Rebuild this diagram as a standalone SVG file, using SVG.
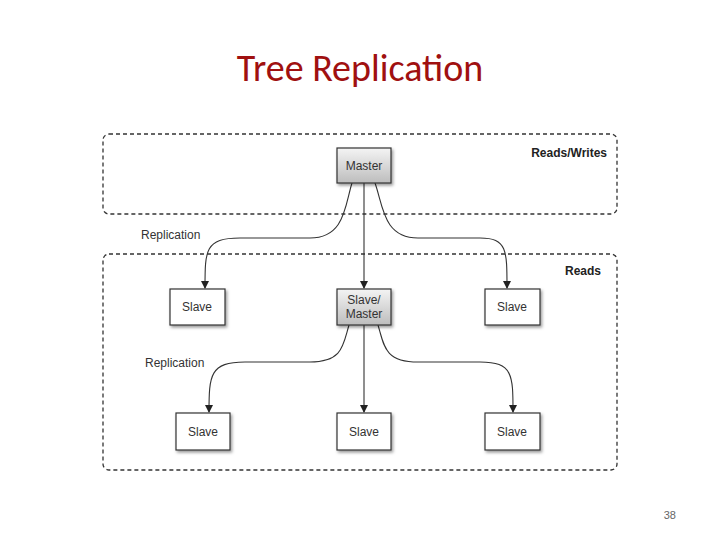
<svg xmlns="http://www.w3.org/2000/svg" width="720" height="540" viewBox="0 0 720 540">
<defs>
<marker id="ar" markerWidth="8" markerHeight="8" refX="7" refY="4" orient="auto" markerUnits="userSpaceOnUse"><path d="M0,0 L8,4 L0,8 Z" fill="#222"/></marker>
<linearGradient id="g" x1="0" y1="0" x2="0" y2="1"><stop offset="0" stop-color="#f4f4f4"/><stop offset="1" stop-color="#bdbdbd"/></linearGradient>
<filter id="sh" x="-20%" y="-20%" width="150%" height="150%"><feDropShadow dx="1.5" dy="2" stdDeviation="1.5" flood-opacity="0.4"/></filter>
</defs>
<style>
.zone{fill:none;stroke:#333;stroke-width:1.3;stroke-dasharray:4,3}
.n{stroke:#333;stroke-width:1.2;filter:url(#sh)}
.w{fill:#fff}.gr{fill:url(#g)}
.t{font-family:"Liberation Sans",Arial,sans-serif;font-size:12px;fill:#333;text-anchor:middle}
.l{font-family:"Liberation Sans",Arial,sans-serif;font-size:12px;fill:#333}
.b{font-family:"Liberation Sans",Arial,sans-serif;font-size:12px;font-weight:bold;fill:#222;text-anchor:end}
.c{fill:none;stroke:#333;stroke-width:1.1;marker-end:url(#ar)}
</style>
<rect width="720" height="540" fill="#fff"/>
<text x="360" y="81" font-family="Calibri,Carlito,'Liberation Sans',sans-serif" font-size="38" fill="#a01010" text-anchor="middle">Tree Replication</text>
<rect class="zone" x="103" y="134" width="514" height="80" rx="6"/>
<rect class="zone" x="103" y="254" width="514" height="216" rx="6"/>
<text class="b" x="607" y="157">Reads/Writes</text>
<text class="b" x="601" y="275">Reads</text>
<text class="l" x="141" y="239">Replication</text>
<text class="l" x="145" y="367">Replication</text>
<g id="connectors">
<path class="c" d="M352,183 C345,205 345,238 310,238 L240,238 C205,238 205,250 205,288"/>
<path class="c" d="M364,183 L364,288"/>
<path class="c" d="M375,183 C383,205 383,238 418,238 L480,238 C507,238 507,250 507,288"/>
<path class="c" d="M349,325 C343,345 343,362 310,362 L245,362 C210,362 209,375 209,412"/>
<path class="c" d="M364,325 L364,412"/>
<path class="c" d="M378,325 C384,345 384,362 418,362 L480,362 C513,362 513,375 513,412"/>
</g>
<g id="master"><rect class="n gr" x="337" y="148" width="54" height="35"/><text class="t" x="364" y="170">Master</text></g>
<g id="slave1"><rect class="n w" x="170" y="289" width="55" height="36"/><text class="t" x="197" y="311">Slave</text></g>
<g id="slavemaster"><rect class="n gr" x="337" y="289" width="54" height="36"/><text class="t" x="364" y="304">Slave/</text><text class="t" x="364" y="318">Master</text></g>
<g id="slave2"><rect class="n w" x="485" y="289" width="55" height="36"/><text class="t" x="512" y="311">Slave</text></g>
<g id="slave3"><rect class="n w" x="176" y="413" width="54" height="37"/><text class="t" x="203" y="436">Slave</text></g>
<g id="slave4"><rect class="n w" x="337" y="413" width="54" height="37"/><text class="t" x="364" y="436">Slave</text></g>
<g id="slave5"><rect class="n w" x="485" y="413" width="55" height="37"/><text class="t" x="512" y="436">Slave</text></g>
<text x="676" y="519" font-family="'Liberation Sans',sans-serif" font-size="11" fill="#666" text-anchor="end">38</text>
</svg>
